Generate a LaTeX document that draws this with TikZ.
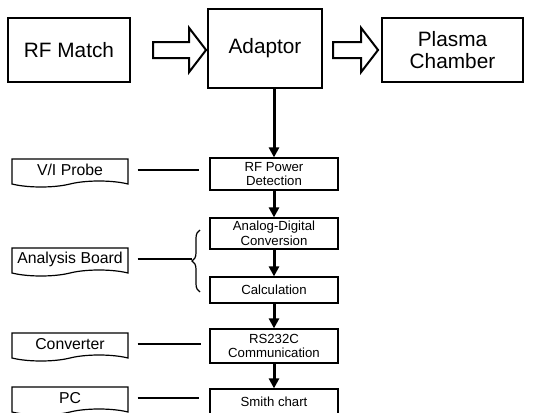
\documentclass[tikz,border=0pt]{standalone}
\usepackage{fontspec}
\setmainfont{Liberation Sans}
\usepackage{tikz}
\usetikzlibrary{positioning, arrows.meta, shapes.symbols, shapes.arrows, decorations.pathreplacing}

\begin{document}
\begin{tikzpicture}[
  x=0.5pt, y=-0.5pt,
  bigbox/.style={draw, line width=0.6pt, align=center, font=\fontsize{10.4}{10.8}\selectfont},
  stepbox/.style={draw, line width=0.6pt, align=center, inner sep=1pt, minimum width=64pt, font=\fontsize{6.6}{7.4}\selectfont},
  partbox/.style={draw, line width=0.6pt, tape, tape bend top=none, tape bend height=3pt, minimum width=58pt, minimum height=14pt, inner sep=1pt, font=\fontsize{7.9}{9}\selectfont},
  fatarrow/.style={draw, line width=1pt, single arrow, single arrow tip angle=105, inner sep=3.5pt, minimum width=17pt},
  flow/.style={line width=1.5pt, -{Triangle[length=5pt, width=5pt]}},
  tie/.style={line width=0.6pt}
]
\clip (0,0) rectangle (537,413);

% top row
\node[bigbox, minimum width=61pt, minimum height=32pt] (rfmatch) at (69,50) {RF Match};
\node[bigbox, minimum width=57pt, minimum height=39.5pt] (adaptor) at (265,48.5) {Adaptor};
\node[bigbox, minimum width=70.5pt, minimum height=32pt] (plasma) at (452.5,50) {Plasma\\Chamber};
\node[fatarrow, minimum height=26.5pt] (push1) at (176.5,50) {};
\node[fatarrow, minimum height=22.5pt] (push2) at (352.5,50) {};

% processing column
\node[stepbox, minimum height=16pt] (rfpd) at (274,174) {RF Power\\Detection};
\node[stepbox, minimum height=15.5pt] (adc) at (274,233.5) {Analog-Digital\\Conversion};
\node[stepbox, minimum height=13pt] (calc) at (274,290) {Calculation};
\node[stepbox, minimum height=17pt] (rs) at (274,346) {RS232C\\Communication};
\node[stepbox, minimum height=13pt] (smith) at (274,402) {Smith chart};

% hardware column
\node[partbox] (vi) at (70,170) {V/I Probe};
\node[partbox] (ab) at (70,259) {Analysis Board};
\node[partbox] (conv) at (70,344) {Converter};
\node[partbox] (pc) at (70,398) {PC};

\draw[flow] (adaptor.south -| rfpd.north) -- (rfpd.north);
\draw[flow] (rfpd) -- (adc);
\draw[flow] (adc) -- (calc);
\draw[flow] (calc) -- (rs);
\draw[flow] (rs) -- (smith);

\draw[tie, decorate, decoration={brace, amplitude=4pt}] (200,292) -- (200,230);
\coordinate (abtip) at (192,261);

\draw[tie, shorten <=4.5pt, shorten >=5pt] (vi.east) -- (vi.east -| rfpd.west);
\draw[tie, shorten <=4.5pt] (ab.east) -- (ab.east -| abtip);
\draw[tie, shorten <=4.5pt, shorten >=4pt] (conv.east) -- (conv.east -| rs.west);
\draw[tie, shorten <=4.5pt, shorten >=5pt] (pc.east) -- (pc.east -| smith.west);
\end{tikzpicture}
\end{document}
